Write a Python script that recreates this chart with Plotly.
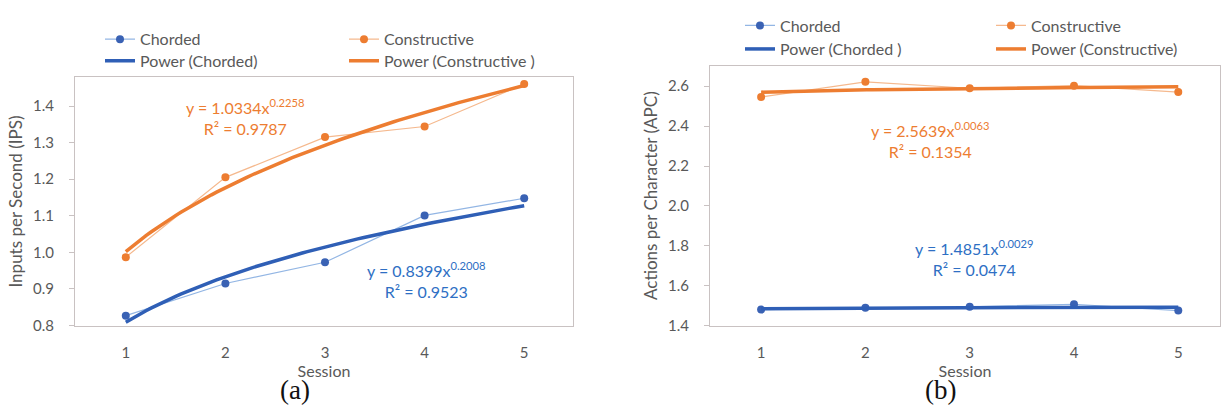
import numpy as np
import plotly.graph_objects as go

# ---------------- data ----------------
sessions = [1, 2, 3, 4, 5]
ips_chorded = [0.827, 0.915, 0.973, 1.101, 1.148]
ips_constructive = [0.987, 1.205, 1.315, 1.344, 1.460]
apc_chorded = [1.480, 1.489, 1.494, 1.507, 1.475]
apc_constructive = [2.546, 2.622, 2.590, 2.603, 2.571]

eq_ips_chorded = ["y = 0.8399x<sup>0.2008</sup>", "R² = 0.9523"]
eq_ips_constructive = ["y = 1.0334x<sup>0.2258</sup>", "R² = 0.9787"]
eq_apc_chorded = ["y = 1.4851x<sup>0.0029</sup>", "R² = 0.0474"]
eq_apc_constructive = ["y = 2.5639x<sup>0.0063</sup>", "R² = 0.1354"]

ips_ticks = [0.8, 0.9, 1.0, 1.1, 1.2, 1.3, 1.4]
apc_ticks = [1.4, 1.6, 1.8, 2.0, 2.2, 2.4, 2.6]

# ---------------- styles ----------------
W, H = 1222, 413
BLUE_MK = "#3A62B4"
BLUE_THIN = "#93B6E4"
BLUE_TREND = "#2F5FB6"
BLUE_TXT = "#2E6FC4"
ORANGE = "#ED7D31"
ORANGE_THIN = "#F5B98E"
GRID = "#C9C2C2"
TXT = "#595959"
FONT = "Lato"


def power_fit(x, y):
    b, ln_a = np.polyfit(np.log(x), np.log(y), 1)
    xs = np.linspace(min(x), max(x), 80)
    return xs, np.exp(ln_a) * xs ** b


def px_x(p):
    return p / W


def px_y(p):
    return 1 - p / H


fig = go.Figure()

panels = [
    dict(xa="x", ya="y", chord=ips_chorded, cons=ips_constructive,
         names=("Chorded", "Constructive", "Power (Chorded)", "Power (Constructive )"),
         legpos=[(100, 40), (344, 40), (100, 62), (344, 62)], leg0=1),
    dict(xa="x2", ya="y2", chord=apc_chorded, cons=apc_constructive,
         names=("Chorded", "Constructive", "Power (Chorded )", "Power (Constructive)"),
         legpos=[(740, 26), (991, 26), (740, 50), (991, 50)], leg0=5),
]

layout_legends = {}
for p in panels:
    n = p["leg0"]
    lg = ["legend" if n == 1 else f"legend{n}", f"legend{n+1}", f"legend{n+2}", f"legend{n+3}"]
    xs_c, ys_c = power_fit(sessions, p["chord"])
    xs_o, ys_o = power_fit(sessions, p["cons"])
    fig.add_trace(go.Scatter(x=sessions, y=p["chord"], mode="lines+markers", name=p["names"][0],
                             line=dict(color=BLUE_THIN, width=1.2), marker=dict(color=BLUE_MK, size=8),
                             xaxis=p["xa"], yaxis=p["ya"], legend=lg[0]))
    fig.add_trace(go.Scatter(x=sessions, y=p["cons"], mode="lines+markers", name=p["names"][1],
                             line=dict(color=ORANGE_THIN, width=1.2), marker=dict(color=ORANGE, size=8),
                             xaxis=p["xa"], yaxis=p["ya"], legend=lg[1]))
    fig.add_trace(go.Scatter(x=xs_c, y=ys_c, mode="lines", name=p["names"][2],
                             line=dict(color=BLUE_TREND, width=3.5),
                             xaxis=p["xa"], yaxis=p["ya"], legend=lg[2]))
    fig.add_trace(go.Scatter(x=xs_o, y=ys_o, mode="lines", name=p["names"][3],
                             line=dict(color=ORANGE, width=3.5),
                             xaxis=p["xa"], yaxis=p["ya"], legend=lg[3]))
    for key, (lx, ly) in zip(lg, p["legpos"]):
        layout_legends[key] = dict(x=px_x(lx), y=px_y(ly), xanchor="left", yanchor="middle",
                                   bgcolor="rgba(0,0,0,0)", borderwidth=0, itemwidth=30,
                                   font=dict(family=FONT, size=16, color=TXT))

axis_common = dict(showgrid=False, zeroline=False, showline=True, mirror=True,
                   linecolor=GRID, linewidth=1.2,
                   tickfont=dict(family=FONT, size=15, color=TXT))

fig.update_layout(
    width=W, height=H, margin=dict(l=0, r=0, t=0, b=0),
    paper_bgcolor="white", plot_bgcolor="white", showlegend=True,
    font=dict(family=FONT, color=TXT),
    xaxis=dict(axis_common, domain=[px_x(75), px_x(573)], range=[0.49, 5.49],
               tickvals=sessions, ticks="", ticklabelstandoff=13,
               title=dict(text="Session", font=dict(family=FONT, size=16, color=TXT), standoff=0),
               anchor="y"),
    yaxis=dict(axis_common, domain=[px_y(332), px_y(79)], range=[0.8, 1.478],
               tickvals=ips_ticks, tickformat=".1f", ticks="outside", ticklen=5, tickcolor=GRID,
               ticklabelstandoff=12,
               title=dict(text="Inputs per Second (IPS)", font=dict(family=FONT, size=17, color=TXT),
                          standoff=5),
               anchor="x"),
    xaxis2=dict(axis_common, domain=[px_x(710), px_x(1220)], range=[0.51, 5.40],
                tickvals=sessions, ticks="", ticklabelstandoff=13,
                title=dict(text="Session", font=dict(family=FONT, size=16, color=TXT), standoff=0),
                anchor="y2"),
    yaxis2=dict(axis_common, domain=[px_y(332), px_y(67)], range=[1.4, 2.703],
                tickvals=apc_ticks, tickformat=".1f", ticks="outside", ticklen=5, tickcolor=GRID,
                ticklabelstandoff=12,
                title=dict(text="Actions per Character (APC)", font=dict(family=FONT, size=17, color=TXT),
                           standoff=5),
                anchor="x2"),
    **layout_legends,
)

ann = []


def eq(lines, x, y, color, xref, yref):
    ann.append(dict(text="<br>".join(lines), x=x, y=y, xref=xref, yref=yref, showarrow=False,
                    align="center", yanchor="middle", xanchor="center",
                    font=dict(family=FONT, size=16, color=color)))


eq(eq_ips_constructive, 2.2, 1.37, ORANGE, "x", "y")
eq(eq_ips_chorded, 4.02, 0.925, BLUE_TXT, "x", "y")
eq(eq_apc_constructive, 2.62, 2.33, ORANGE, "x2", "y2")
eq(eq_apc_chorded, 3.05, 1.74, BLUE_TXT, "x2", "y2")

for lab, cx in (("(a)", 295), ("(b)", 940)):
    ann.append(dict(text=lab, x=px_x(cx), y=px_y(398), xref="paper", yref="paper", showarrow=False,
                    xanchor="center", yanchor="middle",
                    font=dict(family="Liberation Serif", size=27, color="#111111")))
fig.update_layout(annotations=ann)

fig.write_html("out.html")
